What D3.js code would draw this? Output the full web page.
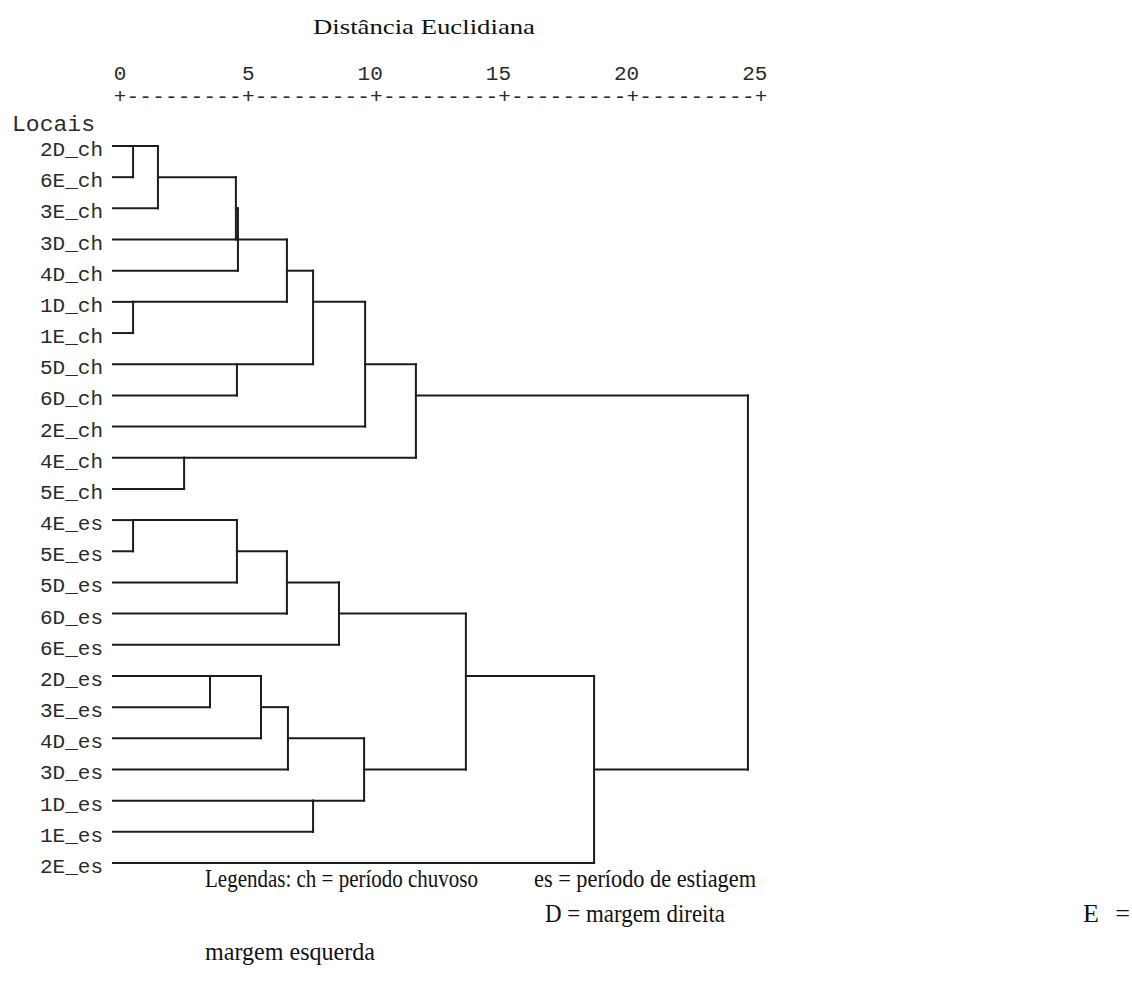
<!DOCTYPE html>
<html lang="pt">
<head>
<meta charset="utf-8">
<title>Dendrograma – Distância Euclidiana</title>
<script src="https://cdn.jsdelivr.net/npm/d3@7"></script>
<style>
  html, body { margin: 0; padding: 0; background: #fff; }
  svg { display: block; }
  .mono { font-family: "Liberation Mono", "Courier New", monospace; fill: #2a2a2a; }
  .serif { font-family: "Liberation Serif", "Times New Roman", serif; fill: #111; }
</style>
</head>
<body>
<svg id="chart" width="1132" height="982"></svg>
<script>
// Locais (folhas do dendrograma), na ordem em que aparecem
const locais = [
  "2D_ch", "6E_ch", "3E_ch", "3D_ch", "4D_ch", "1D_ch", "1E_ch", "5D_ch",
  "6D_ch", "2E_ch", "4E_ch", "5E_ch", "4E_es", "5E_es", "5D_es", "6D_es",
  "6E_es", "2D_es", "3E_es", "4D_es", "3D_es", "1D_es", "1E_es", "2E_es"
];

// Esquema de aglomeração: [grupo A, grupo B, distância reescalonada]
// índices < 24 são locais; índice 24 + k é o grupo formado na junção k
const juncoes = [
  [0, 1, 0.51],    // 24
  [5, 6, 0.51],    // 25
  [12, 13, 0.51],  // 26
  [24, 2, 1.48],   // 27
  [10, 11, 2.50],  // 28
  [17, 18, 3.51],  // 29
  [27, 3, 4.52],   // 30
  [7, 8, 4.56],    // 31
  [26, 14, 4.56],  // 32
  [30, 4, 4.60],   // 33
  [29, 19, 5.50],  // 34
  [33, 25, 6.51],  // 35
  [32, 15, 6.51],  // 36
  [34, 20, 6.55],  // 37
  [35, 31, 7.53],  // 38
  [21, 22, 7.53],  // 39
  [36, 16, 8.54],  // 40
  [37, 39, 9.52],  // 41
  [38, 9, 9.56],   // 42
  [42, 28, 11.54], // 43
  [40, 41, 13.49], // 44
  [44, 23, 18.49], // 45
  [43, 45, 24.49]  // 46
];

// Marcas da escala de distância
const escalaTicks = [0, 5, 10, 15, 20, 25];

const titulo = "Distância Euclidiana";
const rotuloEixo = "Locais";

const svg = d3.select("#chart");

const x = d3.scaleLinear().domain([0, 25]).range([120, 761]);
const y = d3.scalePoint().domain(d3.range(locais.length)).range([146, 863]);

// Título
svg.append("text")
  .attr("class", "serif")
  .attr("x", 313).attr("y", 34)
  .attr("font-size", 22)
  .attr("textLength", 222)
  .attr("lengthAdjust", "spacingAndGlyphs")
  .text(titulo);

// Números da escala (último dígito alinhado sobre o "+")
const charW = (x(5) - x(0)) / 10;
svg.append("g").selectAll("text")
  .data(escalaTicks)
  .join("text")
  .attr("class", "mono")
  .attr("font-size", 21)
  .attr("x", d => x(d) + charW / 2)
  .attr("y", 80)
  .attr("text-anchor", "end")
  .text(d => d);

// Régua "+---------+" gerada a partir da escala
const passos = d3.range(0, 25.001, 0.5);
svg.append("g").selectAll("text")
  .data(passos)
  .join("text")
  .attr("class", "mono")
  .attr("font-size", 21)
  .attr("x", d => x(d))
  .attr("y", 103)
  .attr("text-anchor", "middle")
  .text(d => (d % 5 === 0 ? "+" : "-"));

// Rótulo das folhas
svg.append("text")
  .attr("class", "mono")
  .attr("font-size", 22)
  .attr("x", 12).attr("y", 131)
  .attr("textLength", 83)
  .attr("lengthAdjust", "spacingAndGlyphs")
  .text(rotuloEixo);

svg.append("g").selectAll("text")
  .data(locais)
  .join("text")
  .attr("class", "mono")
  .attr("font-size", 21)
  .attr("x", 103)
  .attr("y", (d, i) => y(i) + 10)
  .attr("text-anchor", "end")
  .text(d => d);

// Posições dos nós: folhas na sua linha; cada junção sai da linha central dos filhos
const inicioFolha = x(0) - 7;
const nos = locais.map((nome, i) => ({ linha: i, xPos: inicioFolha }));
juncoes.forEach(([a, b, dist]) => {
  const la = nos[a].linha, lb = nos[b].linha;
  nos.push({
    a, b,
    linha: Math.floor((Math.min(la, lb) + Math.max(la, lb)) / 2),
    xPos: x(dist)
  });
});

const segmentos = [];
nos.slice(locais.length).forEach(n => {
  const ca = nos[n.a], cb = nos[n.b];
  segmentos.push([ca.xPos, y(ca.linha), n.xPos, y(ca.linha)]);
  segmentos.push([cb.xPos, y(cb.linha), n.xPos, y(cb.linha)]);
  segmentos.push([n.xPos, y(ca.linha), n.xPos, y(cb.linha)]);
});

svg.append("g")
  .attr("stroke", "#1c1c1c")
  .attr("stroke-width", 2)
  .attr("stroke-linecap", "square")
  .selectAll("line")
  .data(segmentos)
  .join("line")
  .attr("x1", d => d[0]).attr("y1", d => d[1])
  .attr("x2", d => d[2]).attr("y2", d => d[3]);

// Legenda
const legenda = [
  { t: "Legendas: ch = período chuvoso", x: 205, y: 887, w: 273, adj: "spacingAndGlyphs" },
  { t: "es = período de estiagem", x: 534, y: 887, w: 222, adj: "spacingAndGlyphs" },
  { t: "D = margem direita", x: 545, y: 922, w: 180, adj: "spacingAndGlyphs" },
  { t: "E =", x: 1083, y: 922, w: 47, adj: "spacing" },
  { t: "margem esquerda", x: 205, y: 960, w: 170, adj: "spacingAndGlyphs" }
];
svg.append("g").selectAll("text")
  .data(legenda)
  .join("text")
  .attr("class", "serif")
  .attr("font-size", 26)
  .attr("x", d => d.x).attr("y", d => d.y)
  .attr("textLength", d => d.w)
  .attr("lengthAdjust", d => d.adj)
  .text(d => d.t);
</script>
</body>
</html>
